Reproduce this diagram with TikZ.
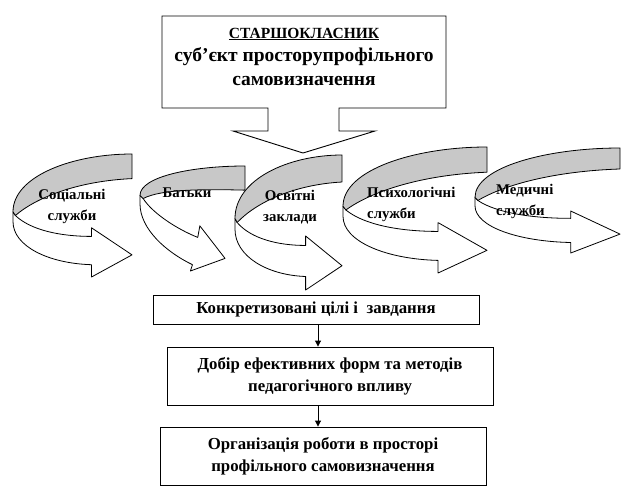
\documentclass[tikz,border=0pt]{standalone}
\usepackage{fontspec}
\setmainfont{Liberation Serif}
\usetikzlibrary{arrows.meta,calc}
\definecolor{bandgray}{RGB}{200,200,200}
\newcommand\bentarrow[4]{%
 \begin{scope}[shift={(#1,#2)},xscale=#3,yscale=#4]
 \filldraw[arrowline,fill=white] (0.02,0.5) .. controls (0.15,0.62) and (0.4,0.67) .. (0.66,0.67) -- (0.66,0.60) -- (1,0.82) -- (0.66,1) -- (0.66,0.90) .. controls (0.3,0.89) and (0,0.75) .. (0,0.55) -- (0,0.47) -- cycle;
 \filldraw[arrowline,fill=bandgray] (1,0) .. controls (0.5,0) and (0,0.18) .. (0,0.47) -- (0.02,0.5) .. controls (0.2,0.35) and (0.55,0.22) .. (1,0.2) -- cycle;
 \end{scope}}
\begin{document}
\begin{tikzpicture}[x=1pt,y=-1pt,
  arrowline/.style={draw=black,line width=0.8pt,line join=round},
  boxline/.style={draw=black,line width=0.9pt},
  flowbox/.style={boxline,fill=white,minimum width=326pt,inner sep=0pt,align=center,
     font=\fontsize{16.8}{22}\selectfont\bfseries},
  arlabel/.style={inner sep=0pt,font=\fontsize{14.8}{21}\selectfont\bfseries},
  flowarrow/.style={line width=0.9pt,-{Triangle[length=6pt,width=6pt]}}]
\useasboundingbox (0,0) rectangle (644,503);

% curved arrows
\bentarrow{13}{154}{119}{123}
\begin{scope}[shift={(140,166)},xscale=105,yscale=105]
 \filldraw[arrowline,fill=white] (0.03,0.31) .. controls (0.12,0.45) and (0.35,0.6) .. (0.55,0.68) -- (0.57,0.57) -- (0.81,0.88) -- (0.48,1.0) -- (0.50,0.94) .. controls (0.25,0.82) and (0,0.6) .. (0,0.36) -- (0,0.28) -- cycle;
 \filldraw[arrowline,fill=bandgray] (1,0) .. controls (0.5,0) and (0,0.1) .. (0,0.28) -- (0.03,0.31) .. controls (0.2,0.22) and (0.6,0.22) .. (1,0.23) -- cycle;
\end{scope}
\bentarrow{235}{155}{107}{135}
\bentarrow{343}{147}{144}{126}
\bentarrow{475}{148}{145}{105}

% callout
\filldraw[boxline,fill=white,line join=miter] (162,16) -- (446,16) -- (446,108) -- (339,108) -- (339,131) -- (375,131) -- (303,153) -- (233,131) -- (268,131) -- (268,108) -- (162,108) -- cycle;
\node[inner sep=0pt,font=\fontsize{15.5}{20}\selectfont\bfseries] (title) at (304,34) {\underline{СТАРШОКЛАСНИК}};
\node[inner sep=0pt,align=center,font=\fontsize{19.5}{24}\selectfont\bfseries] (subj) at (304,67) {суб’єкт просторупрофільного\\самовизначення};

% arrow labels
\node[arlabel,align=center] (l1) at (72,206) {Соціальні\\служби};
\node[arlabel] (l2) at (187,193) {Батьки};
\node[arlabel,align=center] (l3) at (290,207) {Освітні\\заклади};
\node[arlabel,align=left,anchor=west] (l4) at (367,204) {Психологічні\\служби};
\node[arlabel,align=left,anchor=west] (l5) at (496,201) {Медичні\\служби};

% flow boxes
\node[flowbox,minimum height=29pt] (A) at (316,309.5) {Конкретизовані цілі і \ завдання};
\node[flowbox,minimum height=58pt] (B) at (330,376) {Добір ефективних форм та методів\\педагогічного впливу};
\node[flowbox,minimum height=58pt] (C) at (323,456) {Організація роботи в просторі\\профільного самовизначення};
\coordinate (ax) at (318,0);
\draw[flowarrow] (A.south -| ax) -- (B.north -| ax);
\draw[flowarrow] (B.south -| ax) -- (C.north -| ax);
\end{tikzpicture}
\end{document}
